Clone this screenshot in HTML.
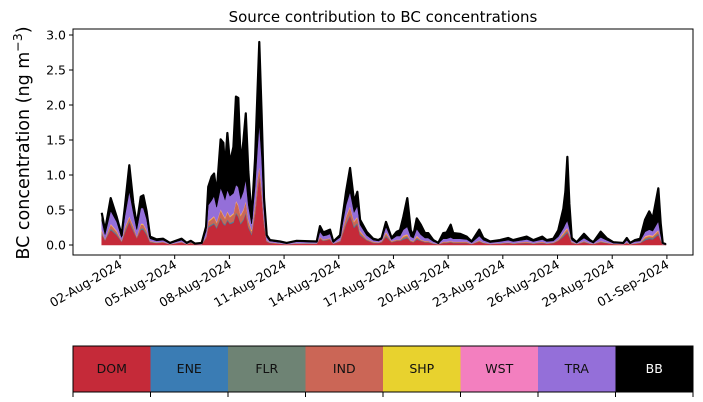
<!DOCTYPE html>
<html><head><meta charset="utf-8"><style>
body{margin:0;background:#fff;}
svg{display:block;font-family:"DejaVu Sans","Liberation Sans",sans-serif;}
</style></head><body>
<svg id="chart" width="703" height="402">
<text x="383" y="22" font-size="15" text-anchor="middle">Source contribution to BC concentrations</text>
<text transform="translate(29,143) rotate(-90)" font-size="17.5" text-anchor="middle">BC concentration (ng m<tspan dy="-7" font-size="12.5">−3</tspan><tspan dy="7">)</tspan></text>
<g id="plot"></g>
<g id="axes"></g>
<g id="legend"></g>
</svg>
<script>
const sources=["DOM","ENE","FLR","IND","SHP","WST","TRA","BB"];
const colors=["#c52a39","#3a7cb4","#6e8374","#cb6656","#e8d22e","#f37fbf","#946fd9","#000000"];
const yTicks=[0,0.5,1.0,1.5,2.0,2.5,3.0];
const xTickDays=[1,4,7,10,13,16,19,22,25,28,31];
const xTickLabels=["02-Aug-2024","05-Aug-2024","08-Aug-2024","11-Aug-2024","14-Aug-2024","17-Aug-2024","20-Aug-2024","23-Aug-2024","26-Aug-2024","29-Aug-2024","01-Sep-2024"];
const days=[0,0.18,0.49,0.82,1.09,1.27,1.51,1.73,1.92,2.14,2.28,2.46,2.65,3.01,3.36,3.74,4.38,4.66,4.88,5.11,5.48,5.72,5.84,6.03,6.16,6.30,6.52,6.67,6.76,6.89,7.03,7.22,7.36,7.49,7.62,7.76,7.90,8.04,8.22,8.41,8.53,8.64,8.77,8.90,9.05,9.23,9.78,10.14,10.69,11.79,11.97,12.15,12.34,12.52,12.70,13.07,13.40,13.62,13.84,14.02,14.17,14.53,14.89,15.17,15.35,15.59,15.90,16.18,16.36,16.54,16.76,16.95,17.09,17.28,17.50,17.73,17.91,18.19,18.46,18.73,18.92,19.14,19.28,19.65,20.02,20.29,20.71,20.93,21.30,21.84,22.30,22.57,23.31,23.67,24.16,24.41,24.77,25.04,25.32,25.43,25.54,25.65,25.78,26.05,26.45,26.78,26.96,27.37,27.69,28.06,28.61,28.80,28.98,29.25,29.53,29.80,30.03,30.22,30.53,30.66,30.77,30.95];
const DOM=[.15,.07,.22,.14,.05,.18,.33,.20,.10,.22,.22,.15,.04,.03,.04,.01,.04,.01,.03,.01,.01,.10,.25,.28,.30,.24,.38,.30,.28,.35,.30,.32,.45,.40,.30,.35,.45,.25,.15,.45,.75,1.00,.70,.30,.05,.03,.02,.01,.02,.02,.09,.06,.07,.08,.02,.05,.30,.42,.25,.30,.14,.07,.03,.03,.04,.12,.04,.06,.06,.08,.10,.05,.04,.08,.06,.04,.04,.02,.01,.03,.03,.04,.03,.03,.03,.015,.05,.03,.015,.02,.03,.02,.03,.02,.03,.02,.03,.06,.12,.15,.18,.12,.03,.015,.04,.02,.015,.04,.03,.015,.01,.03,.01,.02,.03,.07,.09,.08,.15,.07,.01,.004];
const ENE=[.01,.0025,.01,.01,.0025,.01,.01,.01,.0025,.01,.01,.01,.0025,.0025,.0025,.0012,.0025,.0012,.0025,.0008,.0012,.0025,.01,.01,.01,.01,.01,.01,.01,.01,.01,.01,.01,.01,.01,.01,.01,.01,.01,.01,.01,.01,.01,.01,.0025,.0025,.0012,.0012,.0025,.0012,.0025,.0025,.0025,.0025,.0012,.0025,.01,.01,.01,.01,.01,.0025,.0025,.0025,.0025,.01,.0025,.0025,.0025,.01,.01,.0025,.0025,.01,.0025,.0025,.0025,.0025,.0012,.0025,.0025,.0025,.0025,.0025,.0025,.0012,.0025,.0025,.0012,.0025,.0025,.0025,.0025,.0025,.0025,.0025,.0025,.0025,.01,.01,.01,.01,.0025,.0012,.0025,.0025,.0012,.0025,.0025,.0012,.0012,.0025,.0012,.0025,.0025,.01,.01,.01,.01,.0025,.0012,.0003];
const FLR=ENE.slice();
const SHP=ENE.slice();
const WST=ENE.slice();
const IND=[.03,.01,.05,.03,.01,.04,.05,.04,.02,.05,.05,.03,.01,0,0,0,0,0,0,0,0,.02,.06,.07,.08,.06,.10,.10,.08,.10,.08,.10,.15,.14,.10,.12,.15,.08,.03,.10,.15,.10,.10,.04,.01,0,0,0,0,0,.02,.01,.01,.01,0,.01,.08,.10,.06,.07,.03,.01,.01,0,.01,.03,.01,.01,.01,.02,.02,.01,.01,.02,.01,.01,.01,0,0,.01,.01,.01,.01,.01,.01,0,.01,0,0,0,0,0,.01,0,.01,0,0,.01,.02,.03,.03,.02,.01,0,.01,0,0,.01,0,0,0,0,0,0,0,.02,.02,.02,.03,.01,0,0];
const TRA=[.13,.06,.18,.12,.04,.16,.35,.18,.09,.22,.22,.15,.03,.02,.02,.01,.02,.01,.01,.005,.01,.07,.22,.25,.28,.20,.30,.28,.25,.30,.28,.28,.22,.25,.22,.25,.30,.20,.08,.25,.40,.60,.40,.15,.04,.02,.015,.01,.02,.015,.07,.05,.05,.06,.015,.04,.15,.20,.12,.15,.08,.05,.02,.02,.02,.07,.02,.05,.05,.08,.10,.05,.04,.09,.07,.04,.04,.02,.01,.04,.04,.05,.04,.04,.03,.015,.06,.03,.015,.02,.03,.02,.03,.02,.03,.02,.02,.04,.06,.08,.10,.06,.02,.01,.04,.02,.01,.05,.03,.01,.01,.03,.01,.02,.02,.06,.07,.06,.12,.05,.01,.003];
const BB=[.11,.06,.18,.07,.03,.13,.37,.14,.07,.16,.18,.11,.03,.02,.02,.005,.02,.005,.01,.002,.005,.06,.26,.34,.32,.20,.69,.74,.45,.81,.47,.66,1.26,1.27,.51,.70,.94,.48,.08,.40,.76,1.16,.62,.14,.03,.01,.01,.005,.01,.01,.08,.05,.06,.06,.01,.03,.19,.34,.15,.20,.07,.05,.02,.01,.02,.07,.02,.06,.08,.18,.41,.09,.04,.15,.14,.07,.07,.02,.005,.08,.09,.18,.08,.07,.04,.015,.09,.03,.015,.02,.03,.02,.04,.02,.04,.02,.03,.09,.28,.46,.91,.35,.03,.01,.06,.02,.01,.08,.03,.01,.005,.03,.005,.02,.03,.17,.26,.18,.47,.17,.005,.002];
const series=[DOM,ENE,FLR,IND,SHP,WST,TRA,BB];

const NS="http://www.w3.org/2000/svg";
const PL=73,PR=693,PT=29,PB=255;
const xScale=d=>101.77+d*18.23;
const yScale=v=>245-v*70;
function mk(tag,attrs,parent){const e=document.createElementNS(NS,tag);for(const k in attrs)e.setAttribute(k,attrs[k]);parent.appendChild(e);return e;}
const plot=document.getElementById('plot');
const axes=document.getElementById('axes');
const legend=document.getElementById('legend');

let base=days.map(()=>0);
series.forEach((s,k)=>{
  const top=base.map((b,i)=>b+s[i]);
  let d="M"+days.map((t,i)=>xScale(t).toFixed(2)+","+yScale(top[i]).toFixed(2)).join("L");
  for(let i=days.length-1;i>=0;i--) d+="L"+xScale(days[i]).toFixed(2)+","+yScale(base[i]).toFixed(2);
  const p=mk('path',{d:d+"Z",fill:colors[k],stroke:colors[k],'stroke-width':0.6},plot);
  
  
  base=top;
});
const totalLine=mk('path',{d:"M"+days.map((t,i)=>xScale(t).toFixed(2)+","+yScale(base[i]).toFixed(2)).join("L"),fill:"none",stroke:"#000",'stroke-width':2.2,'stroke-linejoin':'round'},plot);



const frame=mk('rect',{x:PL,y:PT,width:PR-PL,height:PB-PT,fill:"none",stroke:"#000",'stroke-width':1},axes);


yTicks.forEach(v=>{
  const y=yScale(v);
  const tk=mk('line',{x1:PL-4,x2:PL,y1:y,y2:y,stroke:"#000"},axes);
  
  
  const tx=mk('text',{x:PL-7,y:y+4.5,'font-size':12.5,'text-anchor':'end'},axes);
  tx.textContent=v.toFixed(1);
  
  
});
xTickDays.forEach((d,i)=>{
  const x=xScale(d);
  const tk=mk('line',{x1:x,x2:x,y1:PB,y2:PB+4,stroke:"#000"},axes);
  
  
  const tx=mk('text',{transform:`translate(${x+3},${PB+12}) rotate(-30)`,'font-size':12.5,'text-anchor':'end'},axes);
  tx.textContent=xTickLabels[i];
  
  
});
const LL=73,LR=693,LT=346,LB=392,w=(LR-LL)/sources.length;
sources.forEach((s,k)=>{
  const r=mk('rect',{x:LL+k*w,y:LT,width:w+0.5,height:LB-LT,fill:colors[k]},legend);
  
  
  const t=mk('text',{x:LL+k*w+w/2,y:LT+27,'font-size':12.5,'text-anchor':'middle',fill:k===7?'#fff':'#111'},legend);
  t.textContent=s;
  
  
});
for(let k=0;k<=sources.length;k++){
  const tk=mk('line',{x1:LL+k*w,x2:LL+k*w,y1:LB,y2:LB+5,stroke:"#000"},legend);
  
  
}
const lf=mk('rect',{x:LL,y:LT,width:LR-LL,height:LB-LT,fill:"none",stroke:"#000",'stroke-width':1},legend);


</script>
</body></html>
